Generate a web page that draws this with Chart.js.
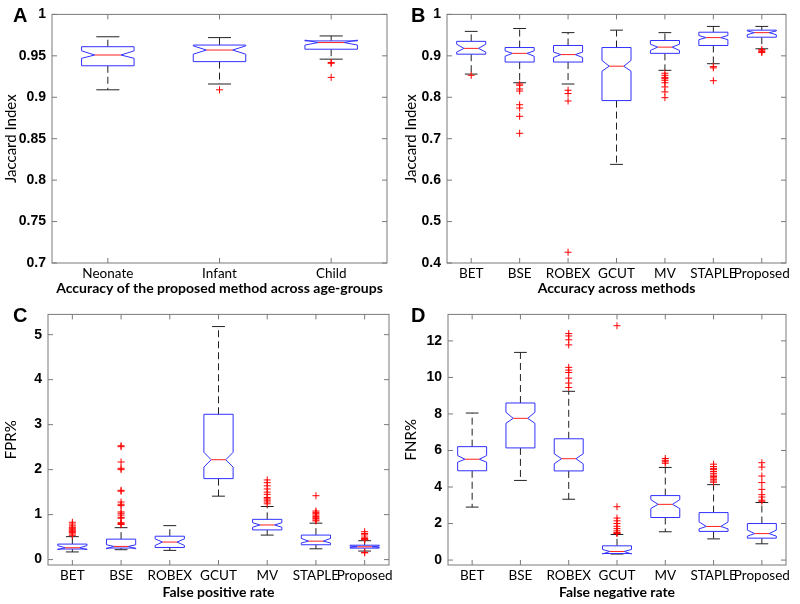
<!DOCTYPE html>
<html>
<head>
<meta charset="utf-8">
<script src="https://cdn.jsdelivr.net/npm/chart.js@4/dist/chart.umd.min.js"></script>
<style>
  body { margin: 0; background: #fff; }
  #wrap { position: relative; width: 800px; height: 604px; overflow: hidden; }
  canvas { position: absolute; }
  .tag { position: absolute; font: bold 20px "Liberation Sans", Arial, sans-serif; color: #000; }
</style>
</head>
<body>
<div id="wrap">
  <canvas id="cA" width="400" height="300" style="left:0;top:0"></canvas>
  <canvas id="cB" width="400" height="300" style="left:400px;top:0"></canvas>
  <canvas id="cC" width="400" height="304" style="left:0;top:300px"></canvas>
  <canvas id="cD" width="400" height="304" style="left:400px;top:300px"></canvas>
  <div class="tag" style="left:13px;top:4px">A</div>
  <div class="tag" style="left:411px;top:4px">B</div>
  <div class="tag" style="left:13px;top:304px">C</div>
  <div class="tag" style="left:411px;top:304px">D</div>
</div>
<script>
// categories
const ageGroups = ['Neonate', 'Infant', 'Child'];
const methods = ['BET', 'BSE', 'ROBEX', 'GCUT', 'MV', 'STAPLE', 'Proposed'];

// A: Jaccard index by age group
const aLow = [0.909, 0.916, 0.946];
const aQ1 = [0.938, 0.943, 0.958];
const aMed = [0.951, 0.957, 0.966];
const aQ3 = [0.961, 0.963, 0.968];
const aHigh = [0.973, 0.972, 0.974];
const aNotchLo = [0.947, 0.952, 0.963];
const aNotchHi = [0.956, 0.962, 0.969];
const aOut = [[], [0.909], [0.942, 0.941, 0.924]];
const aTicks = [0.7, 0.75, 0.8, 0.85, 0.9, 0.95, 1];

// B: Jaccard index by method
const bLow = [0.856, 0.835, 0.832, 0.638, 0.865, 0.881, 0.917];
const bQ1 = [0.904, 0.885, 0.885, 0.792, 0.906, 0.925, 0.945];
const bMed = [0.918, 0.906, 0.903, 0.875, 0.921, 0.944, 0.956];
const bQ3 = [0.935, 0.920, 0.925, 0.920, 0.937, 0.957, 0.962];
const bHigh = [0.959, 0.966, 0.956, 0.962, 0.956, 0.971, 0.971];
const bNotchLo = [0.909, 0.899, 0.896, 0.863, 0.913, 0.939, 0.951];
const bNotchHi = [0.928, 0.912, 0.909, 0.889, 0.928, 0.949, 0.960];
const bOut = [
  [0.853],
  [0.832, 0.829, 0.82, 0.815, 0.782, 0.774, 0.754, 0.713],
  [0.817, 0.809, 0.791, 0.426],
  [],
  [0.858, 0.853, 0.848, 0.845, 0.841, 0.835, 0.825, 0.813, 0.799],
  [0.874, 0.871, 0.840],
  [0.915, 0.912, 0.910, 0.908]
];
const bTicks = [0.4, 0.5, 0.6, 0.7, 0.8, 0.9, 1];

// C: false positive rate (%)
const cLow = [0.17, 0.22, 0.205, 1.41, 0.545, 0.24, 0.19];
const cQ1 = [0.235, 0.257, 0.27, 1.80, 0.66, 0.33, 0.255];
const cMed = [0.264, 0.293, 0.39, 2.22, 0.77, 0.41, 0.285];
const cQ3 = [0.345, 0.455, 0.52, 3.23, 0.895, 0.545, 0.32];
const cHigh = [0.51, 0.71, 0.755, 5.18, 1.18, 0.81, 0.42];
const cNotchLo = [0.22, 0.24, 0.315, 2.055, 0.72, 0.37, 0.27];
const cNotchHi = [0.31, 0.33, 0.46, 2.385, 0.82, 0.47, 0.30];
const cOut = [
  [0.54, 0.57, 0.6, 0.62, 0.64, 0.66, 0.68, 0.7, 0.72, 0.75, 0.79, 0.83],
  [2.53, 2.51, 2.17, 2.03, 2.0, 1.54, 1.52, 1.28, 1.23, 1.2, 1.06, 1.03, 0.99, 0.94, 0.92, 0.82, 0.8, 0.78],
  [],
  [],
  [1.77, 1.71, 1.64, 1.57, 1.5, 1.45, 1.38, 1.35, 1.32, 1.28, 1.24],
  [1.42, 1.08, 1.05, 1.02, 0.99, 0.96, 0.93, 0.91, 0.88, 0.86],
  [0.62, 0.58, 0.55, 0.5, 0.47, 0.45, 0.44, 0.16, 0.15]
];
const cTicks = [0, 1, 2, 3, 4, 5];

// D: false negative rate (%)
const dLow = [2.9, 4.36, 3.33, 0.33, 1.55, 1.16, 0.89];
const dQ1 = [4.89, 6.14, 4.88, 0.36, 2.33, 1.57, 1.2];
const dMed = [5.52, 7.76, 5.55, 0.47, 3.05, 1.84, 1.45];
const dQ3 = [6.21, 8.6, 6.64, 0.78, 3.53, 2.6, 2.0];
const dHigh = [8.05, 11.37, 9.24, 1.40, 5.07, 4.13, 3.15];
const dNotchLo = [5.36, 7.49, 5.27, 0.33, 2.82, 1.71, 1.31];
const dNotchHi = [5.72, 8.09, 5.82, 0.58, 3.31, 2.09, 1.64];
const dOut = [
  [],
  [],
  [12.4, 12.27, 12.06, 11.78, 10.55, 10.4, 10.27, 9.96, 9.69, 9.45],
  [12.83, 2.92, 2.3, 2.15, 2.0, 1.85, 1.72, 1.6, 1.5, 1.48, 1.46],
  [5.56, 5.46, 5.38, 5.3],
  [5.25, 5.12, 5.02, 4.95, 4.85, 4.75, 4.65, 4.57, 4.5, 4.42, 4.33, 4.26],
  [5.33, 5.09, 4.6, 4.24, 3.87, 3.58, 3.45, 3.28, 3.22]
];
const dTicks = [0, 2, 4, 6, 8, 10, 12];

const labelFont = '"Lato", "Open Sans", sans-serif';
const numFont = '"Liberation Sans", Arial, sans-serif';

function boxPlugin(s, boxFrac) {
  return {
    id: 'boxes',
    beforeDatasetsDraw(chart) {
      const ctx = chart.ctx;
      const x = chart.scales.x, y = chart.scales.y;
      const step = x.getPixelForValue(2) - x.getPixelForValue(1);
      const w = step * boxFrac;
      ctx.save();
      for (let i = 0; i < s.med.length; i++) {
        const cx = x.getPixelForValue(i + 1);
        const l = cx - w / 2, r = cx + w / 2;
        const yLo = y.getPixelForValue(s.lo[i]), yHi = y.getPixelForValue(s.hi[i]);
        const y1 = y.getPixelForValue(s.q1[i]), y3 = y.getPixelForValue(s.q3[i]);
        const ym = y.getPixelForValue(s.med[i]);
        const nl = y.getPixelForValue(s.nlo[i]), nh = y.getPixelForValue(s.nhi[i]);
        // whiskers
        ctx.strokeStyle = '#222';
        ctx.lineWidth = 1;
        ctx.setLineDash([7, 4]);
        ctx.beginPath();
        ctx.moveTo(cx, y3); ctx.lineTo(cx, yHi);
        ctx.moveTo(cx, y1); ctx.lineTo(cx, yLo);
        ctx.stroke();
        ctx.setLineDash([]);
        ctx.beginPath();
        ctx.moveTo(cx - w * 0.22, yHi); ctx.lineTo(cx + w * 0.22, yHi);
        ctx.moveTo(cx - w * 0.22, yLo); ctx.lineTo(cx + w * 0.22, yLo);
        ctx.stroke();
        // notched box
        ctx.strokeStyle = '#3030ff';
        ctx.fillStyle = '#fff';
        ctx.beginPath();
        ctx.moveTo(l, y3); ctx.lineTo(l, nh); ctx.lineTo(l + w / 4, ym); ctx.lineTo(l, nl); ctx.lineTo(l, y1);
        ctx.lineTo(r, y1); ctx.lineTo(r, nl); ctx.lineTo(r - w / 4, ym); ctx.lineTo(r, nh); ctx.lineTo(r, y3);
        ctx.closePath();
        ctx.fill();
        ctx.stroke();
        // median
        ctx.strokeStyle = '#ff2020';
        ctx.beginPath();
        ctx.moveTo(l + w / 4, ym); ctx.lineTo(r - w / 4, ym);
        ctx.stroke();
      }
      ctx.restore();
    },
    afterDraw(chart) {
      const ctx = chart.ctx, a = chart.chartArea;
      const x = chart.scales.x, y = chart.scales.y;
      ctx.save();
      ctx.strokeStyle = '#7a7a7a';
      ctx.lineWidth = 1;
      ctx.strokeRect(a.left, a.top, a.right - a.left, a.bottom - a.top);
      ctx.beginPath();
      y.ticks.forEach(t => {
        const py = y.getPixelForValue(t.value);
        ctx.moveTo(a.left, py); ctx.lineTo(a.left + 5, py);
        ctx.moveTo(a.right, py); ctx.lineTo(a.right - 5, py);
      });
      x.ticks.forEach(t => {
        const px = x.getPixelForValue(t.value);
        ctx.moveTo(px, a.bottom); ctx.lineTo(px, a.bottom - 5);
        ctx.moveTo(px, a.top); ctx.lineTo(px, a.top + 5);
      });
      ctx.stroke();
      ctx.restore();
    }
  };
}

function makeChart(id, cats, s, yMin, yMax, yTicks, yTitle, xTitle, g) {
  const points = [];
  s.out.forEach((vals, i) => vals.forEach(v => points.push({ x: i + 1, y: v })));
  return new Chart(document.getElementById(id), {
    type: 'scatter',
    data: {
      datasets: [{
        data: points,
        pointStyle: 'cross',
        pointRadius: 3.5,
        borderColor: '#ff0000',
        borderWidth: 1
      }]
    },
    options: {
      responsive: false,
      animation: false,
      events: [],
      layout: { padding: { top: g.top, right: g.right, left: 0, bottom: 0 } },
      plugins: { legend: { display: false }, tooltip: { enabled: false } },
      scales: {
        x: {
          type: 'linear',
          min: 0.5,
          max: cats.length + 0.5,
          grid: { display: false, drawTicks: false },
          border: { display: false },
          afterBuildTicks: sc => { sc.ticks = cats.map((c, i) => ({ value: i + 1 })); },
          afterFit: sc => { sc.height = g.xh; },
          ticks: {
            autoSkip: false, maxRotation: 0, padding: 3, color: '#000',
            font: { family: labelFont, size: 13.5 },
            callback: v => cats[v - 1]
          },
          title: {
            display: true, text: xTitle, color: '#000', padding: { top: 0, bottom: 3 },
            font: { family: labelFont, size: 14, weight: 'bold' }
          }
        },
        y: {
          min: yMin,
          max: yMax,
          grid: { display: false, drawTicks: false },
          border: { display: false },
          afterBuildTicks: sc => { sc.ticks = yTicks.map(v => ({ value: v })); },
          afterFit: sc => { sc.width = g.left; },
          ticks: {
            padding: 6, color: '#000',
            font: { family: numFont, size: 14, weight: 'bold' },
            callback: v => String(+v.toFixed(2))
          },
          title: {
            display: true, text: yTitle, color: '#000', padding: { top: 2, bottom: 0 },
            font: { family: labelFont, size: 15 }
          }
        }
      }
    },
    plugins: [boxPlugin(s, g.box)]
  });
}

makeChart('cA', ageGroups,
  { lo: aLow, q1: aQ1, med: aMed, q3: aQ3, hi: aHigh, nlo: aNotchLo, nhi: aNotchHi, out: aOut },
  0.7, 1.0, aTicks, 'Jaccard Index', 'Accuracy of the proposed method across age-groups',
  { top: 12, right: 13, left: 52, xh: 37, box: 0.47 });

makeChart('cB', methods,
  { lo: bLow, q1: bQ1, med: bMed, q3: bQ3, hi: bHigh, nlo: bNotchLo, nhi: bNotchHi, out: bOut },
  0.4, 1.0, bTicks, 'Jaccard Index', 'Accuracy across methods',
  { top: 12, right: 14, left: 47, xh: 37, box: 0.6 });

makeChart('cC', methods,
  { lo: cLow, q1: cQ1, med: cMed, q3: cQ3, hi: cHigh, nlo: cNotchLo, nhi: cNotchHi, out: cOut },
  -0.12, 5.45, cTicks, 'FPR%', 'False positive rate',
  { top: 13, right: 11, left: 48, xh: 39, box: 0.6 });

makeChart('cD', methods,
  { lo: dLow, q1: dQ1, med: dMed, q3: dQ3, hi: dHigh, nlo: dNotchLo, nhi: dNotchHi, out: dOut },
  -0.27, 13.45, dTicks, 'FNR%', 'False negative rate',
  { top: 13, right: 14, left: 48, xh: 39, box: 0.6 });
</script>
</body>
</html>
